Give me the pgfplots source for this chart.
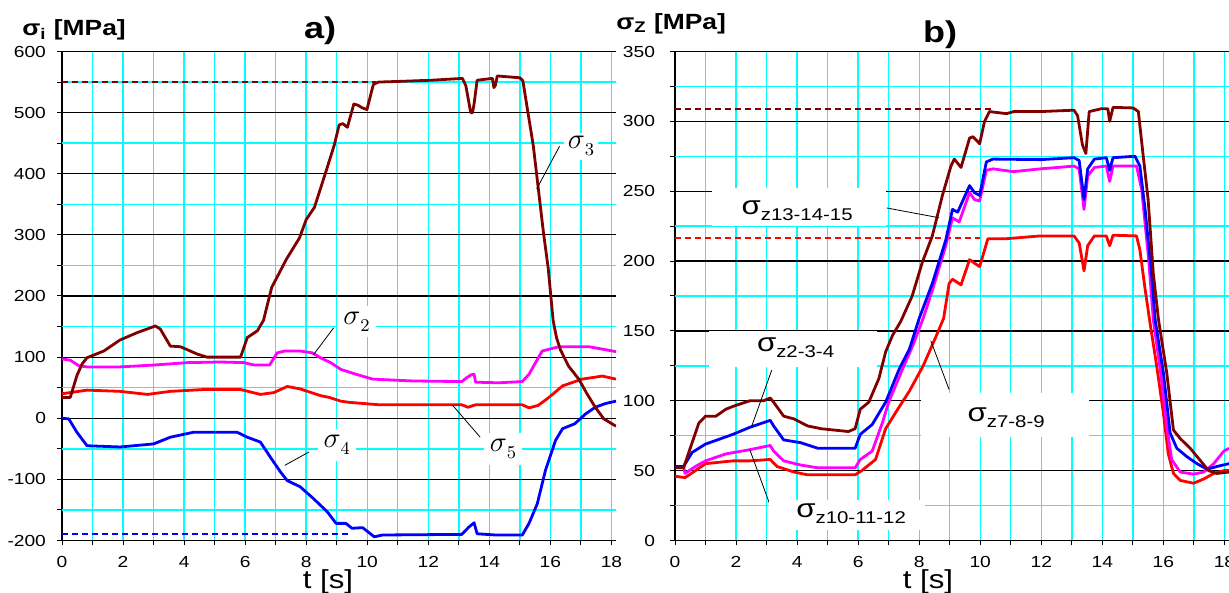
\documentclass[border=0pt]{standalone}
\usepackage{fontspec}
\setmainfont{Liberation Sans}[FakeStretch=1.2]
\usepackage{pgfplots}
\pgfplotsset{compat=1.18}
\definecolor{dbrown}{HTML}{800000}
\definecolor{cmag}{HTML}{FF00FF}
\definecolor{cred}{HTML}{FF0000}
\definecolor{cblue}{HTML}{0000FF}
\definecolor{ccyan}{HTML}{00FFFF}

\newcommand\lsig[1]{{\fontsize{15}{15}\selectfont$\sigma$}\raisebox{-3.5pt}{\fontsize{9.5}{9.5}\selectfont$#1$}}
\newcommand\rsig[1]{{\fontsize{13}{13}\selectfont σ}\raisebox{-3pt}{\fontsize{8.5}{8.5}\selectfont #1}}

\pgfplotsset{
  common/.style={
    scale only axis, width=277pt, height=244.5pt,
    xmin=0, xmax=18.15,
    axis x line*=bottom, axis y line*=left,
    axis line style={black, line width=0.6pt},
    tick align=outside,
    major tick length=2.5pt, minor tick length=2.5pt,
    tick style={black, line width=0.5pt},
    xtick={0,2,...,18}, minor xtick={1,3,...,17},
    ticklabel style={font=\fontsize{8}{8}\selectfont},
    /pgf/number format/assume math mode=true,
    xticklabel style={yshift=-2pt},
    clip=true,
  },
  curve/.style={line width=1.4pt, line join=round},
}

\pgfplotstableread{
t v
0 34
0.27 34
0.49 70
0.66 89
0.82 99
1.37 110
1.9 128
2.46 140
3.06 151
3.22 146
3.55 118
3.88 117
4.43 105
4.75 100
5.85 100
6.07 132
6.4 143
6.6 160
6.87 214
7.35 260
7.78 295
8.0 325
8.27 345
8.65 404
8.92 447
9.08 480
9.2 482
9.35 476
9.56 514
9.7 512
9.83 508
9.99 505
10.2 546
10.37 550
11.0 551
12.1 553
13.12 556
13.23 544
13.39 500
13.45 500
13.5 514
13.6 553
14.1 556
14.15 541
14.2 545
14.26 560
15.0 557
15.1 552
15.23 511
15.44 446
15.55 399
15.77 305
15.93 245
16.09 160
16.2 132
16.33 112
16.6 85
16.93 64
17.2 40
17.47 18
17.75 -1
18.15 -13
}\sthree

\pgfplotstableread{
t v
0 97
0.27 95
0.55 86
0.82 84
1.9 84
3.0 87
4.1 91
5.2 92
5.96 91
6.3 87
6.8 87
7.05 107
7.3 110
7.8 110
8.2 107
8.5 98
8.8 91
9.13 80
9.63 72
10.18 64
11.48 61
13.1 60
13.25 66
13.4 71
13.5 72
13.55 59
14.3 58
15.08 60
15.3 72
15.73 110
16.28 117
17.26 117
17.6 114
18.15 109
}\stwo

\pgfplotstableread{
t v
0 40
0.27 42
0.82 46
1.9 44
2.8 39
3.55 44
4.65 47
5.85 47
6.5 39
6.94 42
7.38 52
7.8 48
8.47 37
8.76 34
9.13 28
9.41 26
10.4 22
13.1 22
13.3 18
13.55 22
15.08 22
15.3 17
15.6 21
15.95 34
16.4 53
17.04 64
17.7 69
18.15 64
}\sfive

\pgfplotstableread{
t v
0 0
0.22 -1
0.49 -23
0.82 -45
1.9 -47
3.0 -42
3.55 -31
4.3 -23
5.74 -23
6.07 -31
6.5 -39
6.83 -64
7.16 -88
7.38 -102
7.8 -112
8.25 -132
8.69 -153
8.98 -172
9.3 -172
9.5 -180
9.85 -179
10.23 -194
10.5 -191
13.1 -190
13.33 -178
13.5 -171
13.6 -189
14.2 -191
15.08 -191
15.3 -172
15.57 -140
15.84 -85
16.17 -36
16.4 -17
16.8 -9
17.15 7
17.47 18
17.8 24
18.15 28
}\sfour

\pgfplotstableread{
t v
0 52
0.28 52
0.56 70
0.78 84
1.0 89
1.34 89
1.67 94
1.9 96
2.45 100
2.9 100
3.12 102
3.23 99
3.56 89
3.9 87
4.34 82
4.79 80
5.68 78
5.9 80
6.07 94
6.35 99
6.68 116
6.9 135
7.13 147
7.4 157
7.77 175
8.1 199
8.43 218
8.76 247
9.04 268
9.15 273
9.37 267
9.65 288
9.76 289
9.98 284
10.14 300
10.3 307
10.86 305.5
11.1 307
11.97 307
13.07 308
13.19 304
13.35 283
13.46 277
13.57 307
13.96 309
14.18 309
14.24 300
14.35 310
15.01 309.6
15.18 307
15.34 275
15.5 244
15.67 191
15.84 158
16.11 120
16.33 79
16.55 73
16.88 66
17.2 57.5
17.48 50
17.76 48
18.15 49
}\zbrown

\pgfplotstableread{
t v
0 53
0.28 53
0.56 63
1.0 69
1.9 76
2.45 81
3.12 86
3.23 82
3.56 72
4.12 70
4.68 66
5.9 66
6.07 76
6.46 83
6.9 99
7.35 123
7.68 137
8.0 159
8.43 184
8.87 215
9.09 237
9.26 235
9.65 254
9.81 249
9.98 247
10.2 271
10.42 273
11.97 272.6
13.07 274
13.24 272
13.4 244
13.52 266
13.74 273
14.13 274
14.24 265
14.35 274
15.07 275
15.23 268
15.4 237
15.62 189
15.73 158
16.0 120
16.22 77
16.44 66
16.77 60
17.1 55
17.43 51
17.76 53
18.15 55
}\zblue

\pgfplotstableread{
t v
0 53
0.28 53
0.33 48
0.67 53
1.0 57
1.67 62
2.45 65
3.12 68
3.23 64
3.56 57
4.12 54
4.68 52
5.9 52
6.07 58
6.46 64
6.79 84
7.0 99
7.46 123
7.8 140
8.13 159
8.43 179
8.87 211
9.09 231
9.31 228
9.65 249
9.81 244
9.98 243
10.2 265
10.42 266
11.08 264
11.97 266
13.07 268
13.24 266
13.4 237
13.52 261
13.74 267
14.13 268
14.24 257
14.35 268
15.12 268
15.29 251
15.51 203
15.67 158
15.9 122
16.11 82
16.27 58
16.55 49
16.99 47.5
17.32 49
17.65 55
17.98 64
18.15 66
}\zmag

\pgfplotstableread{
t v
0 46
0.33 45
0.67 50
1.0 55
1.9 57
2.45 57
3.12 58
3.34 53
3.9 49
4.34 47
5.9 47
6.12 50
6.57 58
6.9 80
7.24 92
7.68 107
8.13 125
8.57 147
8.8 159
8.98 184
9.09 187
9.37 183
9.65 201
9.98 196
10.25 216
10.86 216
11.97 218
13.07 218
13.24 213
13.4 193
13.52 211
13.74 218
14.13 218
14.24 211
14.35 218.5
15.12 218
15.23 208
15.4 180
15.56 156
15.78 125
16.0 91
16.16 62
16.33 48
16.55 43
16.99 41
17.32 44
17.65 48
17.98 50
18.15 50
}\zred

\begin{document}
\begin{tikzpicture}
\useasboundingbox (0,0) rectangle (614.5pt,296.5pt);

% ---------------- panel a
\begin{axis}[common, at={(31pt,26.25pt)}, anchor=south west,
  ymin=-200, ymax=600,
  ytick={-200,-100,...,600}, minor ytick={-150,-50,...,550},
  yticklabel style={xshift=-2pt},
]
\pgfplotsinvokeforeach{1,...,18}{\draw[ccyan, line width=0.7pt] (axis cs:#1,-200) -- (axis cs:#1,600);}
\pgfplotsinvokeforeach{-150,-50,50,150,250,350,450,550}{\draw[ccyan, line width=0.7pt] (axis cs:0,#1) -- (axis cs:18.15,#1);}
\pgfplotsinvokeforeach{-100,0,100,200,300,400,500,600}{\draw[black, line width=0.6pt] (axis cs:0,#1) -- (axis cs:18.15,#1);}
\addplot[dbrown, dashed, line width=0.8pt, dash pattern=on 3pt off 2pt] coordinates {(0,550) (10.3,550)};
\addplot[cblue, dashed, line width=0.8pt, dash pattern=on 3pt off 2pt] coordinates {(0,-189) (9.5,-189)};
\addplot[curve, cred] table[x=t,y=v] {\sfive};
\addplot[curve, cmag] table[x=t,y=v] {\stwo};
\addplot[curve, cblue] table[x=t,y=v] {\sfour};
\addplot[curve, dbrown] table[x=t,y=v] {\sthree};
% leaders
\draw[black, line width=0.4pt] (axis cs:15.55,375) -- (axis cs:16.3,445);
\draw[black, line width=0.4pt] (axis cs:8.24,104) -- (axis cs:8.9,148);
\draw[black, line width=0.4pt] (axis cs:12.8,21) -- (axis cs:13.7,-31);
\draw[black, line width=0.4pt] (axis cs:7.3,-77) -- (axis cs:8.1,-55);
\node[fill=white, inner xsep=2pt, inner ysep=2pt] at (axis cs:17.0,445) {\lsig{3}};
\node[fill=white, inner xsep=3pt, inner ysep=3pt] at (axis cs:9.65,158) {\lsig{2}};
\node[fill=white, inner xsep=3pt, inner ysep=3pt] at (axis cs:14.45,-50) {\lsig{5}};
\node[fill=white, inner xsep=3pt, inner ysep=3pt] at (axis cs:9.0,-44) {\lsig{4}};
\end{axis}

% ---------------- panel b
\begin{axis}[common, at={(337.5pt,26.25pt)}, anchor=south west,
  ymin=0, ymax=350,
  ytick={0,50,...,350}, minor ytick={25,75,...,325},
  yticklabel style={xshift=-4pt},
]
\pgfplotsinvokeforeach{1,...,18}{\draw[ccyan, line width=0.7pt] (axis cs:#1,0) -- (axis cs:#1,350);}
\pgfplotsinvokeforeach{25,75,125,175,225,275,325}{\draw[ccyan, line width=0.7pt] (axis cs:0,#1) -- (axis cs:18.15,#1);}
\pgfplotsinvokeforeach{50,100,150,200,250,300,350}{\draw[black, line width=0.6pt] (axis cs:0,#1) -- (axis cs:18.15,#1);}
\addplot[dbrown, dashed, line width=0.8pt, dash pattern=on 3pt off 2pt] coordinates {(0,309) (10.4,309)};
\addplot[cred, dashed, line width=0.8pt, dash pattern=on 3pt off 2pt] coordinates {(0,216.5) (10.0,216.5)};
\addplot[curve, cred] table[x=t,y=v] {\zred};
\addplot[curve, cmag] table[x=t,y=v] {\zmag};
\addplot[curve, cblue] table[x=t,y=v] {\zblue};
\addplot[curve, dbrown] table[x=t,y=v] {\zbrown};
% leaders
\draw[black, line width=0.4pt] (axis cs:6.94,238) -- (axis cs:8.65,231);
\draw[black, line width=0.4pt] (axis cs:3.17,122) -- (axis cs:2.5,81);
\draw[black, line width=0.4pt] (axis cs:3.12,25) -- (axis cs:2.45,65);
\draw[black, line width=0.4pt] (axis cs:8.38,143) -- (axis cs:8.98,108);
\node[fill=white, minimum width=87pt, minimum height=19pt, inner sep=0pt] at (axis cs:4.05,239) {};
\node at (axis cs:4.0,236) {\rsig{z13-14-15}};
\node[fill=white, minimum width=84pt, minimum height=18pt, inner sep=0pt] at (axis cs:3.85,137) {};
\node at (axis cs:3.95,138) {\rsig{z2-3-4}};
\node[fill=white, minimum width=78pt, minimum height=15pt, inner sep=0pt] at (axis cs:5.65,18) {};
\node at (axis cs:5.77,19) {\rsig{z10-11-12}};
\node[fill=white, minimum width=84pt, minimum height=22pt, inner sep=0pt] at (axis cs:10.8,90) {};
\node at (axis cs:10.85,88) {\rsig{z7-8-9}};
\end{axis}

% ---------------- titles and labels
\node[anchor=west, inner sep=0pt] at (11pt,281.5pt) {\fontsize{11}{11}\selectfont\bfseries σ\textsubscript{i} [MPa]};
\node[inner sep=0pt] at (160pt,281pt) {\fontsize{15}{15}\selectfont\bfseries a)};
\node[anchor=west, inner sep=0pt] at (308pt,284.5pt) {\fontsize{11}{11}\selectfont\bfseries σ\textsubscript{Z} [MPa]};
\node[inner sep=0pt] at (470pt,279pt) {\fontsize{15}{15}\selectfont\bfseries b)};
\node[inner sep=0pt] at (164pt,5.5pt) {\fontsize{13}{13}\selectfont t [s]};
\node[inner sep=0pt] at (464pt,5.5pt) {\fontsize{13}{13}\selectfont t [s]};
\end{tikzpicture}
\end{document}
